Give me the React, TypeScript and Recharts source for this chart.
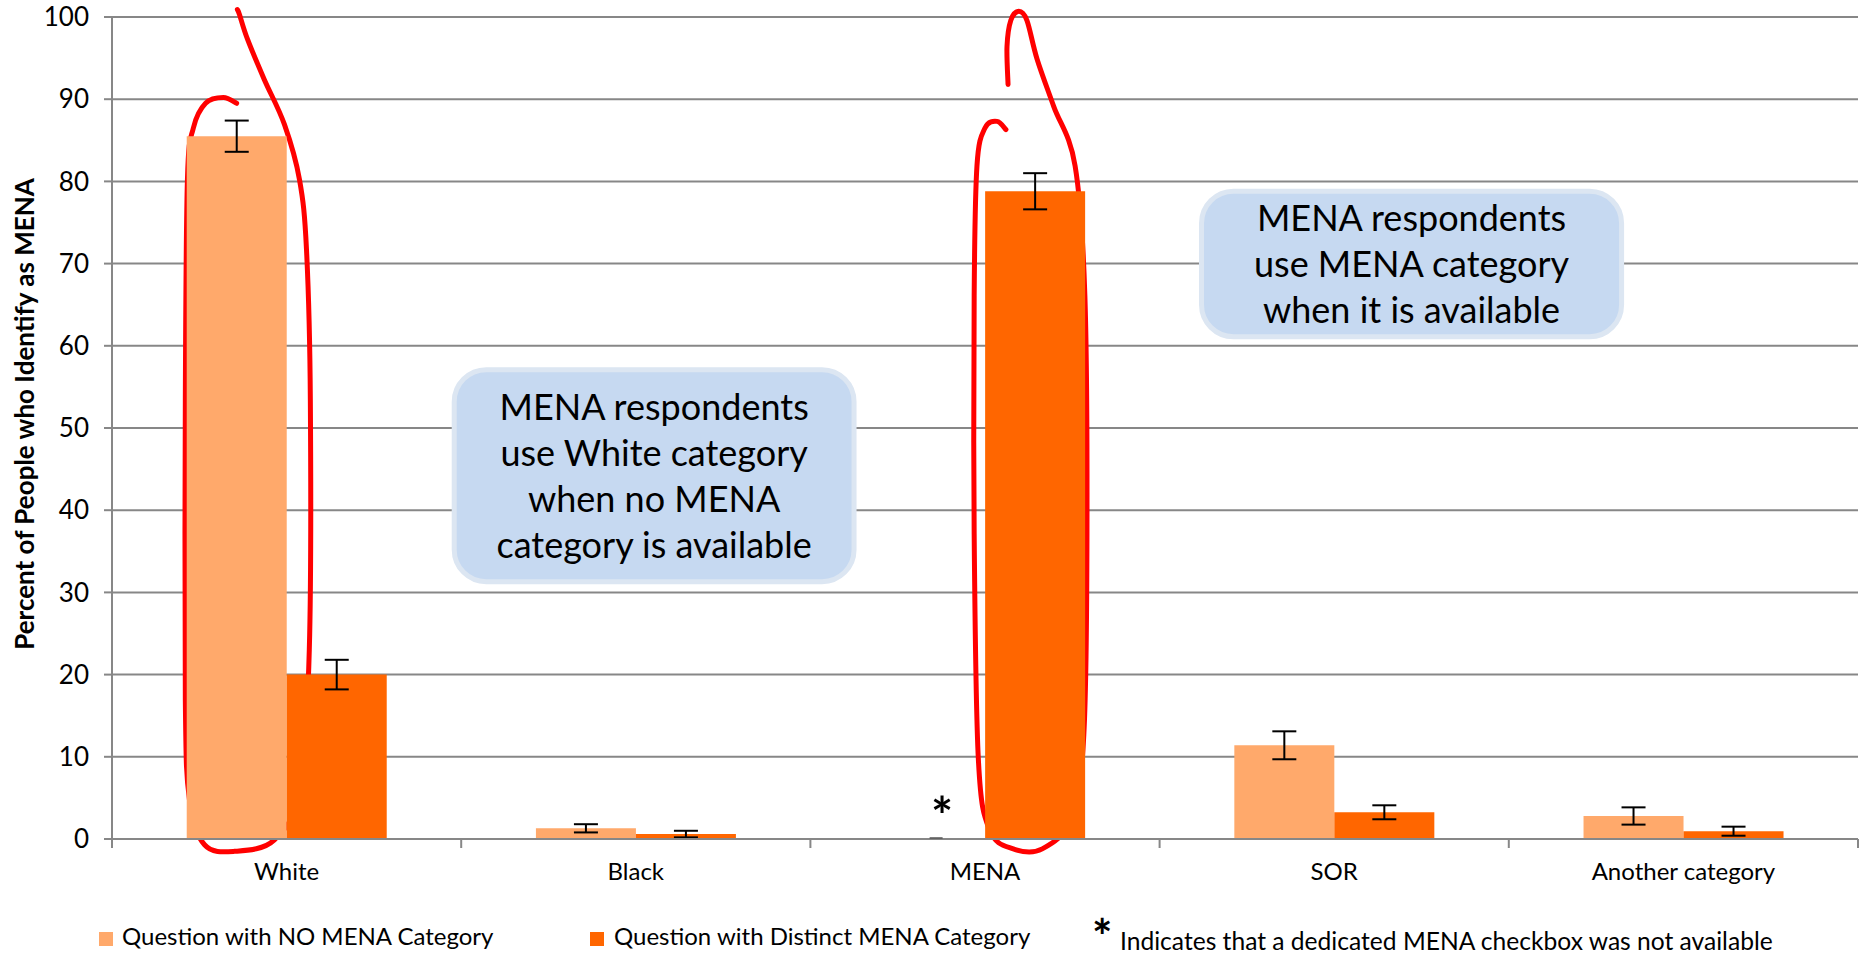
import React from 'react';
import {
    ComposedChart,
    CartesianGrid,
    XAxis,
    YAxis,
    Bar,
    ErrorBar,
    ReferenceArea,
    ReferenceDot,
    Scatter
} from 'recharts';

// chart values
const categories = ['White', 'Black', 'MENA', 'SOR', 'Another category'];
const noMenaValues = [85.5, 1.3, 0, 11.4, 2.8];
const noMenaErrors = [1.9, 0.5, 0, 1.7, 1.05];
const distinctValues = [20.0, 0.6, 78.8, 3.25, 0.95];
const distinctErrors = [1.8, 0.4, 2.2, 0.85, 0.55];
const notes = ['', '', '*', '', ''];
const yTicks = [0, 10, 20, 30, 40, 50, 60, 70, 80, 90, 100];
const boundaryTicks = [0, 1, 2, 3, 4, 5];

// hand-drawn red loops (x = category index + fraction, y = percent)
const whiteLoopX = [0.357, 0.319, 0.268, 0.233, 0.216, 0.210, 0.210, 0.222, 0.265, 0.351, 0.465, 0.537, 0.565, 0.568, 0.557, 0.537, 0.494, 0.436, 0.388, 0.365, 0.359];
const whiteLoopY = [89.5, 90.2, 89.5, 86.5, 80.2, 53.4, 16.9, 4.7, -0.7, -1.5, -0.1, 6.0, 23.0, 53.4, 71.7, 80.2, 86.9, 92.4, 97.3, 100.3, 100.9];
const menaLoopX = [2.566, 2.563, 2.574, 2.597, 2.620, 2.649, 2.697, 2.758, 2.786, 2.792, 2.783, 2.749, 2.664, 2.581, 2.513, 2.481, 2.469, 2.469, 2.477, 2.500, 2.535, 2.560];
const menaLoopY = [91.8, 96.4, 99.6, 100.7, 99.6, 94.9, 89.1, 81.9, 66.1, 37.1, 12.7, 2.6, -1.2, -1.2, 1.1, 9.7, 37.1, 66.1, 81.9, 86.5, 87.3, 86.3];

// callout boxes
const leftNote = ['MENA respondents', 'use White category', 'when no MENA', 'category is available'];
const rightNote = ['MENA respondents', 'use MENA category', 'when it is available'];

const chartData = categories.map((name, i) => ({
    name,
    noMena: noMenaValues[i],
    noMenaErr: noMenaErrors[i],
    distinct: distinctValues[i],
    distinctErr: distinctErrors[i],
}));

// anchors the numeric boundary axis (x 0..5) to the same plot as the category axis
const anchorPoints = [{ x: 0, y: 0 }, { x: 5, y: 100 }];

const FONT = 'Lato, "Open Sans", Arial, sans-serif';
const LIGHT = '#FFA96B';
const DARK = '#FF6600';
const GRID = '#878787';

const noteBox = (lines: string[]) => (props: any) => {
    const { x, y, width, height } = props;
    if (![x, y, width, height].every(Number.isFinite)) return <g />;
    const cx = x + width / 2;
    const cy = y + height / 2;
    const lh = 46;
    return (
        <g>
            <rect x={x} y={y} width={width} height={height} rx={32} ry={32} fill="#C6D9F1" stroke="#DCE6F2" strokeWidth={5} />
            {lines.map((t, i) => (
                <text key={i} x={cx} y={cy + (i - (lines.length - 1) / 2) * lh + 13} textAnchor="middle" fontSize={36} fontFamily={FONT} fill="#000">
                    {t}
                </text>
            ))}
        </g>
    );
};

// smooth freehand stroke through the loop points, mapped through the area that spans the whole plot (x 0..5, y 0..100)
const loopShape = (xs: number[], ys: number[]) => (props: any) => {
    const { x, y, width, height } = props;
    if (![x, y, width, height].every(Number.isFinite)) return <g />;
    const pts = xs.map((fx, i) => [x + (fx / 5) * width, y + height - (ys[i] / 100) * height]);
    let d = `M${pts[0][0]},${pts[0][1]}`;
    for (let i = 0; i < pts.length - 1; i++) {
        const p0 = pts[Math.max(i - 1, 0)];
        const p1 = pts[i];
        const p2 = pts[i + 1];
        const p3 = pts[Math.min(i + 2, pts.length - 1)];
        const c1x = p1[0] + (p2[0] - p0[0]) / 6;
        const c1y = p1[1] + (p2[1] - p0[1]) / 6;
        const c2x = p2[0] - (p3[0] - p1[0]) / 6;
        const c2y = p2[1] - (p3[1] - p1[1]) / 6;
        d += ` C${c1x},${c1y} ${c2x},${c2y} ${p2[0]},${p2[1]}`;
    }
    return <path d={d} fill="none" stroke="#FF0000" strokeWidth={5} strokeLinecap="round" strokeLinejoin="round" />;
};

// zero-height series 1 bar: flat error cap plus the asterisk note above it
const noteMark = (label: string) => (props: any) => {
    const { cx, cy } = props;
    if (!Number.isFinite(cx) || !Number.isFinite(cy)) return <g />;
    return (
        <g>
            <line x1={cx - 6.5} x2={cx + 6.5} y1={cy - 1} y2={cy - 1} stroke="#555" strokeWidth={1.5} />
            <text x={cx + 6} y={cy - 4} textAnchor="middle" fontSize={52} fontWeight="bold" fontFamily={FONT} fill="#000">
                {label}
            </text>
        </g>
    );
};

const noShape = () => <g />;
const blankTick = () => '';

export default function App() {
    return (
        <div style={{ position: 'absolute', left: 0, top: 0, width: 1859, height: 954, background: '#fff', fontFamily: FONT, color: '#000' }}>
            <ComposedChart
                width={1859}
                height={954}
                data={chartData}
                margin={{ top: 17, right: 1, bottom: 0, left: 0 }}
                barCategoryGap="21.4%"
                barGap={0}
            >
                <CartesianGrid vertical={false} stroke={GRID} strokeWidth={2} />
                {/* numeric axis 0..5: draws the axis line and the tick marks between categories */}
                <XAxis
                    xAxisId={0}
                    type="number"
                    dataKey="x"
                    domain={[0, 5]}
                    ticks={boundaryTicks}
                    interval={0}
                    allowDataOverflow
                    height={2}
                    axisLine={{ stroke: GRID, strokeWidth: 2 }}
                    tickLine={{ stroke: GRID, strokeWidth: 2 }}
                    tickSize={9}
                    tickFormatter={blankTick}
                    tick={{ fontSize: 1, fill: 'none' }}
                />
                {/* category axis: labels only */}
                <XAxis
                    xAxisId={1}
                    dataKey="name"
                    height={113}
                    axisLine={false}
                    tickLine={false}
                    tickSize={0}
                    tickMargin={22}
                    interval={0}
                    tick={{ fill: '#000', fontSize: 24, fontFamily: FONT }}
                />
                <YAxis
                    yAxisId={0}
                    width={112}
                    domain={[0, 100]}
                    ticks={yTicks}
                    interval={0}
                    tickSize={8}
                    tickMargin={15}
                    axisLine={{ stroke: GRID, strokeWidth: 2 }}
                    tickLine={{ stroke: GRID, strokeWidth: 2 }}
                    tick={{ fill: '#000', fontSize: 26, fontFamily: FONT }}
                />
                <YAxis yAxisId="a" hide type="number" dataKey="y" domain={[0, 100]} allowDataOverflow />

                <Bar dataKey="noMena" xAxisId={1} yAxisId={0} fill={LIGHT} isAnimationActive={false}>
                    <ErrorBar dataKey="noMenaErr" width={12} stroke="#000" strokeWidth={2} isAnimationActive={false} />
                </Bar>
                <Bar dataKey="distinct" xAxisId={1} yAxisId={0} fill={DARK} isAnimationActive={false}>
                    <ErrorBar dataKey="distinctErr" width={12} stroke="#000" strokeWidth={2} isAnimationActive={false} />
                </Bar>

                <Scatter data={anchorPoints} xAxisId={0} yAxisId="a" dataKey="y" shape={noShape} legendType="none" isAnimationActive={false} />

                <ReferenceArea xAxisId={0} yAxisId={0} x1={0.980} x2={2.125} y1={31.3} y2={57.1} shape={noteBox(leftNote)} />
                <ReferenceArea xAxisId={0} yAxisId={0} x1={3.120} x2={4.323} y1={61.1} y2={78.8} shape={noteBox(rightNote)} />

                {notes.map((n, i) =>
                    n ? (
                        <ReferenceDot key={`note-${i}`} xAxisId={0} yAxisId={0} x={i + 0.36} y={noMenaValues[i]} r={0} shape={noteMark(n)} />
                    ) : null
                )}

                <ReferenceArea xAxisId={0} yAxisId={0} x1={0} x2={5} y1={0} y2={100} ifOverflow="visible" shape={loopShape(whiteLoopX, whiteLoopY)} />
                <ReferenceArea xAxisId={0} yAxisId={0} x1={0} x2={5} y1={0} y2={100} ifOverflow="visible" shape={loopShape(menaLoopX, menaLoopY)} />
            </ComposedChart>

            <div style={{ position: 'absolute', left: 24, top: 414, transform: 'translate(-50%, -50%) rotate(-90deg)', whiteSpace: 'nowrap', fontSize: 26, fontWeight: 'bold' }}>
                Percent of People who Identify as MENA
            </div>

            <div style={{ position: 'absolute', left: 99, top: 932, width: 14, height: 14, background: LIGHT }} />
            <div style={{ position: 'absolute', left: 122, top: 922, fontSize: 24, lineHeight: '28px', whiteSpace: 'nowrap' }}>Question with NO MENA Category</div>
            <div style={{ position: 'absolute', left: 590, top: 932, width: 14, height: 14, background: DARK }} />
            <div style={{ position: 'absolute', left: 614, top: 922, fontSize: 24, lineHeight: '28px', whiteSpace: 'nowrap' }}>Question with Distinct MENA Category</div>
            <div style={{ position: 'absolute', left: 1092, top: 908, fontSize: 48, fontWeight: 'bold', lineHeight: '56px' }}>*</div>
            <div style={{ position: 'absolute', left: 1120, top: 927, fontSize: 24.6, lineHeight: '28px', whiteSpace: 'nowrap' }}>Indicates that a dedicated MENA checkbox was not available</div>
        </div>
    );
}
